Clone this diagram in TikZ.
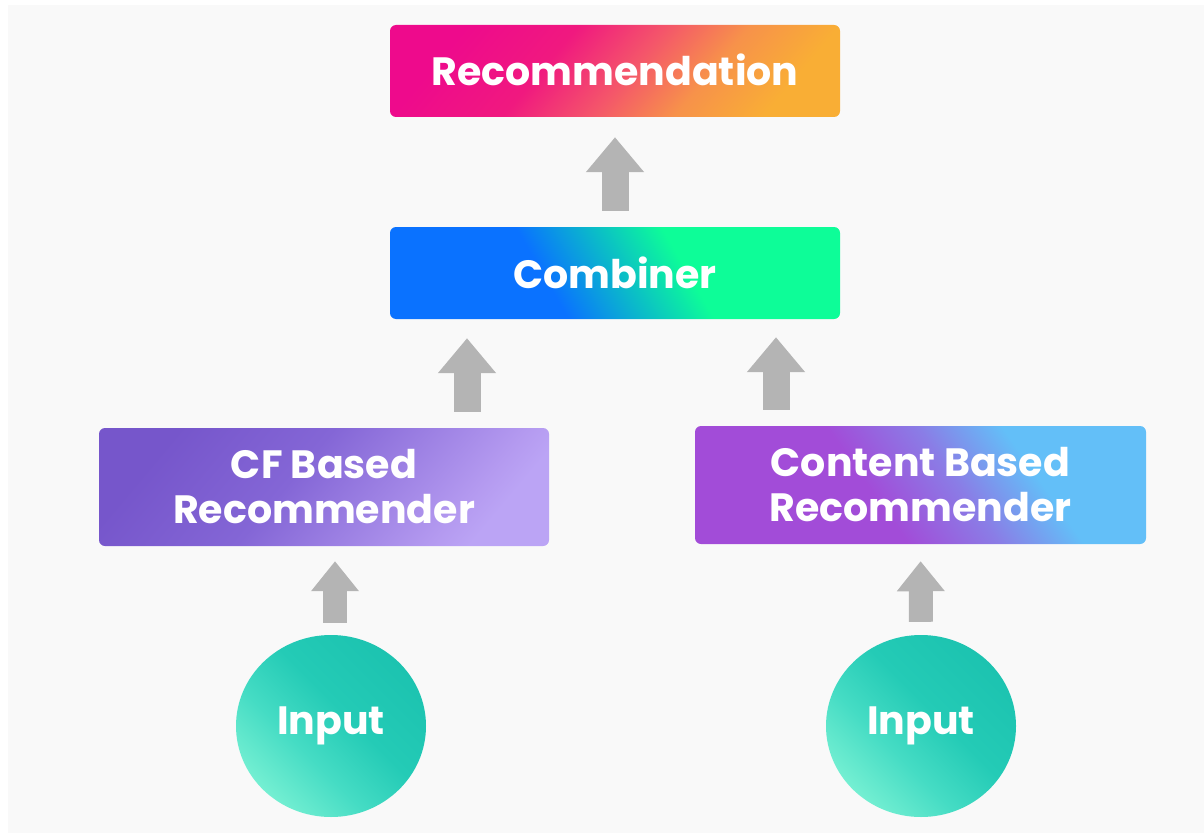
\documentclass[tikz,border=0pt]{standalone}
\usepackage{fontspec}
\setmainfont{Poppins}
\usetikzlibrary{arrows.meta,shadings,shapes.geometric}
\definecolor{bggray}{HTML}{F9F9F9}
\definecolor{arrgray}{HTML}{B4B4B4}
% Recommendation
\definecolor{rA}{HTML}{EE0A8C}
\definecolor{rB}{HTML}{F0197F}
\definecolor{rC}{HTML}{F4566A}
\definecolor{rD}{HTML}{F7924A}
\definecolor{rE}{HTML}{F9AE35}
% Combiner
\definecolor{cA}{HTML}{0A72FF}
\definecolor{cB}{HTML}{0BB8CB}
\definecolor{cC}{HTML}{0DFD98}
% CF
\definecolor{fA}{HTML}{7656CB}
\definecolor{fB}{HTML}{8466D6}
\definecolor{fC}{HTML}{B49AF0}
\definecolor{fD}{HTML}{BBA4F5}
% Content
\definecolor{tA}{HTML}{A24CD8}
\definecolor{tB}{HTML}{8A7DE6}
\definecolor{tC}{HTML}{63BFF8}
% Input
\definecolor{iA}{HTML}{74EFD2}
\definecolor{iB}{HTML}{45DCC4}
\definecolor{iC}{HTML}{24CBB6}
\definecolor{iD}{HTML}{1CC3B0}
\pgfdeclarehorizontalshading{recsh}{100bp}{color(0bp)=(rA); color(25bp)=(rA); color(40bp)=(rB); color(52bp)=(rC); color(63bp)=(rD); color(75bp)=(rE); color(100bp)=(rE)}
\pgfdeclarehorizontalshading{combsh}{100bp}{color(0bp)=(cA); color(40bp)=(cA); color(50bp)=(cB); color(60bp)=(cC); color(100bp)=(cC)}
\pgfdeclarehorizontalshading{cfsh}{100bp}{color(0bp)=(fA); color(25bp)=(fA); color(45bp)=(fB); color(70bp)=(fC); color(75bp)=(fD); color(100bp)=(fD)}
\pgfdeclarehorizontalshading{contsh}{100bp}{color(0bp)=(tA); color(43bp)=(tA); color(55bp)=(tB); color(66bp)=(tC); color(100bp)=(tC)}
\pgfdeclarehorizontalshading{insh}{100bp}{color(0bp)=(iA); color(25bp)=(iA); color(40bp)=(iB); color(55bp)=(iC); color(75bp)=(iD); color(100bp)=(iD)}
\begin{document}
\begin{tikzpicture}[x=1pt,y=-1pt,
  box/.style={shade, rounded corners=6pt, minimum width=450pt, minimum height=92pt,
    inner sep=0pt, text=white, align=center,
    font=\fontsize{39.5}{45}\selectfont\bfseries},
  tallbox/.style={box, minimum height=118pt},
  inputnode/.style={shade, shading=insh, shading angle=45, ellipse, minimum width=190pt,
    minimum height=182pt, inner sep=0pt, text=white, font=\fontsize{39.5}{45}\selectfont\bfseries},
  blk/.style={draw=arrgray, line width=27pt, -{Triangle[width=56pt,length=35pt]}},
  blksmall/.style={draw=arrgray, line width=24pt, -{Triangle[width=46pt,length=30pt]}}
]
\useasboundingbox (0,0) rectangle (1204,837);
\fill[white] (0,0) rectangle (1204,837);
\fill[bggray] (8,5) rectangle (1204,833);

\node[box, shading=recsh, shading angle=-40] (rec) at (615,71) {\raisebox{3pt}{Recommendation}};
\node[box, shading=combsh, shading angle=30] (comb) at (615,273) {Combiner};
\node[tallbox, shading=cfsh, shading angle=-40] (cf) at (324,487) {CF Based\\Recommender};
\node[tallbox, shading=contsh, shading angle=35, minimum width=451pt] (cont) at (920.5,485) {Content Based\\Recommender};
\node[inputnode] (in1) at (331,726) {\raisebox{-3pt}{Input}};
\node[inputnode] (in2) at (921,726) {\raisebox{-3pt}{Input}};

\coordinate (ml) at (467,0);
\coordinate (mr) at (776,0);
\coordinate (bl) at (335,0);

\draw[blk, shorten <=16pt, shorten >=20pt] (comb.north) -- (rec.south);
\draw[blk, shorten <=16pt, shorten >=19pt] (ml |- cf.north) -- (ml |- comb.south);
\draw[blk, shorten <=16pt, shorten >=18pt] (mr |- cont.north) -- (mr |- comb.south);
\draw[blksmall, shorten <=12pt, shorten >=15pt] (bl |- in1.north) -- (bl |- cf.south);
\draw[blksmall, shorten <=13pt, shorten >=17pt] (in2.north) -- (cont.south);
\end{tikzpicture}
\end{document}
